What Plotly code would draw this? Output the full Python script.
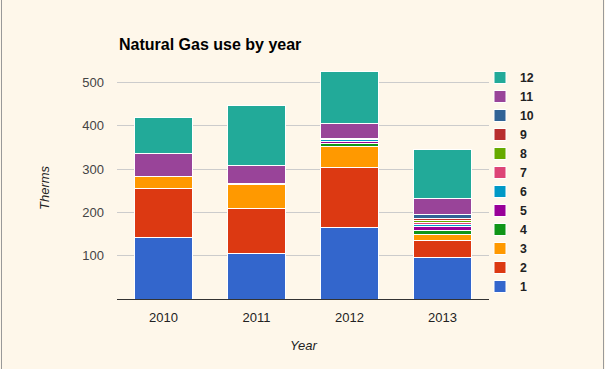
import plotly.graph_objects as go

years = ["2010", "2011", "2012", "2013"]
series_names = ["1", "2", "3", "4", "5", "6", "7", "8", "9", "10", "11", "12"]
s1 = [143, 106, 165, 96]
s2 = [113, 104, 138, 40]
s3 = [26, 55, 48, 12]
s4 = [None, None, 8, 10]
s5 = [None, None, 5, 9]
s6 = [None, None, 3, 5]
s7 = [None, None, None, 4]
s8 = [None, 1, None, 5]
s9 = [None, None, None, 5]
s10 = [None, None, 3, 9]
s11 = [53, 41, 35, 37]
s12 = [84, 139, 120, 112]
series_values = [s1, s2, s3, s4, s5, s6, s7, s8, s9, s10, s11, s12]
colors = ["#3366cc", "#dc3912", "#ff9900", "#109618", "#990099", "#0099c6",
          "#dd4477", "#66aa00", "#b82e2e", "#316395", "#994499", "#22aa99"]
y_ticks = [100, 200, 300, 400, 500]

BG = "#fef7ea"
FONT = "Arial, Liberation Sans, sans-serif"

fig = go.Figure()
for name, vals, col in zip(series_names, series_values, colors):
    fig.add_trace(go.Bar(
        x=years, y=vals, name=name,
        marker=dict(color=col, line=dict(color="white", width=1)),
    ))

W, H = 605, 369
L, R, T, B = 117, 116, 45, 70
pw = W - L - R
ph = H - T - B
ymax = ph / (234 / 540)

def px_x(x):
    return (x - L) / pw

def px_y(y):
    return (H - B - y) / ph

fig.update_layout(
    width=W, height=H,
    barmode="stack", bargap=0.385,
    paper_bgcolor=BG, plot_bgcolor=BG,
    margin=dict(l=L, r=R, t=T, b=B, autoexpand=False),
    font=dict(family=FONT, size=13, color="#222"),
    title=dict(text="<b>Natural Gas use by year</b>", font=dict(size=16, color="#000"),
               xref="paper", x=px_x(119), xanchor="left",
               yref="container", y=1 - 44 / H, yanchor="middle"),
    legend=dict(traceorder="reversed", x=px_x(480), xanchor="left",
                y=px_y(63), yanchor="top",
                font=dict(size=12.3, color="#222", family=FONT, weight="bold"),
                bgcolor="rgba(0,0,0,0)", tracegroupgap=0, itemclick=False),
    xaxis=dict(showline=True, linecolor="#333", linewidth=1, showgrid=False,
               ticks="", ticklabelstandoff=6, fixedrange=True),
    yaxis=dict(range=[0, ymax], tickvals=y_ticks, showgrid=True, gridcolor="#cccccc",
               zeroline=False, showline=False, ticks="", ticklabelstandoff=12,
               tickfont=dict(color="#444"), fixedrange=True),
    annotations=[
        dict(text="Year", xref="paper", yref="paper", x=0.5, y=px_y(345),
             xanchor="center", yanchor="middle", showarrow=False,
             font=dict(size=13, color="#222", style="italic")),
        dict(text="Therms", xref="paper", yref="paper", x=px_x(44), y=px_y(188),
             xanchor="center", yanchor="middle", showarrow=False, textangle=-90,
             font=dict(size=13, color="#222", style="italic")),
    ],
    shapes=[
        dict(type="line", xref="paper", yref="paper", x0=px_x(1.5), x1=px_x(1.5),
             y0=px_y(0), y1=px_y(H), line=dict(color="#999", width=1)),
        dict(type="line", xref="paper", yref="paper", x0=px_x(603.5), x1=px_x(603.5),
             y0=px_y(0), y1=px_y(H), line=dict(color="#999", width=1)),
    ],
)

fig.write_html("out.html", config={"displayModeBar": False},
               post_script="document.body.style.margin='0px';")
